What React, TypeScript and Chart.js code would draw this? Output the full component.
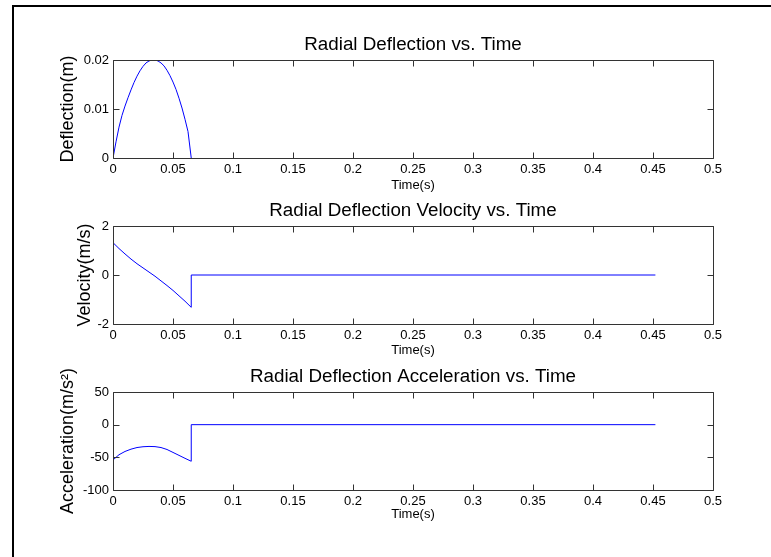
import React, { useEffect, useRef } from "react";
import { Chart, registerables } from "chart.js";

Chart.register(...registerables);

// ---------- data ----------
const X_TICK_MIN = 0;
const X_TICK_MAX = 0.5;
const X_TICK_STEP = 0.05;

const T_DEFLECTION = [0, 0.0025, 0.005, 0.0075, 0.01, 0.0125, 0.015, 0.0175, 0.02, 0.0225, 0.025, 0.0275, 0.03, 0.0325, 0.035, 0.0375, 0.04, 0.0425, 0.045, 0.0475, 0.05, 0.0525, 0.055, 0.0575, 0.06, 0.0625, 0.0652];
const DEFLECTION = [0, 0.0033, 0.0063, 0.0087, 0.0106, 0.0123, 0.0139, 0.0154, 0.0167, 0.0178, 0.0187, 0.0194, 0.0198, 0.0200, 0.0200, 0.0198, 0.0194, 0.0188, 0.0179, 0.0168, 0.0155, 0.0140, 0.0122, 0.0102, 0.0079, 0.0054, 0];

const T_VELOCITY = [0, 0.005, 0.01, 0.015, 0.02, 0.025, 0.03, 0.035, 0.04, 0.045, 0.05, 0.055, 0.06, 0.0652, 0.0652, 0.452];
const VELOCITY = [1.32, 1.08, 0.86, 0.65, 0.46, 0.29, 0.12, -0.05, -0.24, -0.43, -0.63, -0.85, -1.07, -1.32, 0, 0];

const T_ACCEL = [0, 0.005, 0.01, 0.015, 0.02, 0.025, 0.03, 0.035, 0.04, 0.045, 0.05, 0.055, 0.06, 0.0652, 0.0652, 0.452];
const ACCEL = [-54, -46, -41, -37.5, -35, -33.8, -33.3, -33.6, -35, -38, -42.5, -47, -51.5, -56, 0, 0];

const TITLES = ["Radial Deflection vs. Time", "Radial Deflection Velocity vs. Time", "Radial Deflection Acceleration vs. Time"];
const Y_LABELS = ["Deflection(m)", "Velocity(m/s)", "Acceleration(m/s²)"];
const X_LABEL = "Time(s)";
const Y_RANGES = [[0, 0.02, 0.01], [-2, 2, 2], [-100, 50, 50]];

// ---------- layout ----------
const W = 771;
const H = 557;
const PLOT_LEFT = 113;
const PLOT_RIGHT = 713;
const PANELS = [
  { top: 60, bottom: 158, ylabGap: 45, xlabGap: 27 },
  { top: 226, bottom: 324, ylabGap: 28, xlabGap: 26 },
  { top: 392, bottom: 490, ylabGap: 45, xlabGap: 24 },
];
const Y_SCALE_W = 50;
const X_SCALE_H = 30;
const FONT = '"Liberation Sans", Arial, Helvetica, sans-serif';
const AXIS_COLOR = "#333333";
const LINE_COLOR = "#0000ff";
const TICK_LEN = 6;

const fmt = (v: number) => String(parseFloat(Number(v).toFixed(4)));

const framePlugin = {
  id: "matlabFrame",
  afterDraw(chart: any, _args: any, opts: any) {
    const { ctx, chartArea: a, scales } = chart;
    const L = Math.round(a.left) + 0.5;
    const R = Math.round(a.right) + 0.5;
    const T = Math.round(a.top) + 0.5;
    const B = Math.round(a.bottom) + 0.5;
    ctx.save();
    ctx.strokeStyle = AXIS_COLOR;
    ctx.lineWidth = 1;
    ctx.beginPath();
    ctx.rect(L, T, R - L, B - T);
    ctx.stroke();
    ctx.beginPath();
    scales.x.ticks.forEach((t: any) => {
      const px = Math.round(scales.x.getPixelForValue(t.value)) + 0.5;
      ctx.moveTo(px, B);
      ctx.lineTo(px, B - TICK_LEN);
      ctx.moveTo(px, T);
      ctx.lineTo(px, T + TICK_LEN);
    });
    scales.y.ticks.forEach((t: any) => {
      const py = Math.round(scales.y.getPixelForValue(t.value)) + 0.5;
      ctx.moveTo(L, py);
      ctx.lineTo(L + TICK_LEN, py);
      ctx.moveTo(R, py);
      ctx.lineTo(R - TICK_LEN, py);
    });
    ctx.stroke();

    ctx.fillStyle = "#000";
    ctx.textAlign = "center";
    ctx.textBaseline = "middle";
    const cx = (a.left + a.right) / 2;
    ctx.font = `18.8px ${FONT}`;
    ctx.fillText(opts.title, cx, a.top - 15);
    ctx.font = `13px ${FONT}`;
    ctx.fillText(X_LABEL, cx, a.bottom + opts.xlabGap);

    ctx.translate(a.left - opts.ylabGap, (a.top + a.bottom) / 2);
    ctx.rotate(-Math.PI / 2);
    ctx.font = `18px ${FONT}`;
    ctx.fillText(opts.ylabel, 0, 0);
    ctx.restore();
  },
};

function makeConfig(i: number, xs: number[], ys: number[]) {
  const p = PANELS[i];
  const [ymin, ymax, ystep] = Y_RANGES[i];
  return {
    type: "line" as const,
    data: {
      datasets: [
        {
          data: xs.map((x, k) => ({ x, y: ys[k] })),
          borderColor: LINE_COLOR,
          borderWidth: 1,
          pointRadius: 0,
          tension: 0,
          fill: false,
        },
      ],
    },
    options: {
      animation: false,
      responsive: false,
      devicePixelRatio: 1,
      events: [],
      layout: {
        padding: {
          left: PLOT_LEFT - Y_SCALE_W,
          right: W - PLOT_RIGHT,
          top: p.top,
          bottom: H - p.bottom - X_SCALE_H,
        },
      },
      plugins: {
        legend: { display: false },
        title: { display: false },
        tooltip: { enabled: false },
        matlabFrame: { title: TITLES[i], ylabel: Y_LABELS[i], ylabGap: p.ylabGap, xlabGap: p.xlabGap },
      },
      scales: {
        x: {
          type: "linear",
          min: X_TICK_MIN,
          max: X_TICK_MAX,
          grid: { display: false, drawTicks: false },
          border: { display: false },
          ticks: {
            stepSize: X_TICK_STEP,
            autoSkip: false,
            maxRotation: 0,
            padding: 4,
            color: "#000",
            font: { family: FONT, size: 13 },
            callback: (v: any) => fmt(v),
          },
          afterFit: (s: any) => {
            s.height = X_SCALE_H;
          },
        },
        y: {
          type: "linear",
          min: ymin,
          max: ymax,
          grid: { display: false, drawTicks: false },
          border: { display: false },
          ticks: {
            stepSize: ystep,
            autoSkip: false,
            padding: 4,
            color: "#000",
            font: { family: FONT, size: 13 },
            callback: (v: any) => fmt(v),
          },
          afterFit: (s: any) => {
            s.width = Y_SCALE_W;
          },
        },
      },
    },
    plugins: [framePlugin],
  };
}

function Panel({ index, xs, ys }: { index: number; xs: number[]; ys: number[] }) {
  const ref = useRef<HTMLCanvasElement | null>(null);
  useEffect(() => {
    if (!ref.current) return;
    const chart = new Chart(ref.current, makeConfig(index, xs, ys) as any);
    return () => chart.destroy();
  }, [index, xs, ys]);
  return (
    <canvas
      ref={ref}
      width={W}
      height={H}
      style={{ position: "absolute", left: 0, top: 0, width: W, height: H }}
    />
  );
}

export default function App() {
  return (
    <div
      style={{
        position: "fixed",
        left: 0,
        top: 0,
        width: W,
        height: H,
        background: "#fff",
        overflow: "hidden",
      }}
    >
      <div
        style={{
          position: "absolute",
          left: 12,
          top: 5,
          width: W + 20,
          height: H + 20,
          borderLeft: "2px solid #000",
          borderTop: "2px solid #000",
        }}
      />
      <Panel index={0} xs={T_DEFLECTION} ys={DEFLECTION} />
      <Panel index={1} xs={T_VELOCITY} ys={VELOCITY} />
      <Panel index={2} xs={T_ACCEL} ys={ACCEL} />
    </div>
  );
}
